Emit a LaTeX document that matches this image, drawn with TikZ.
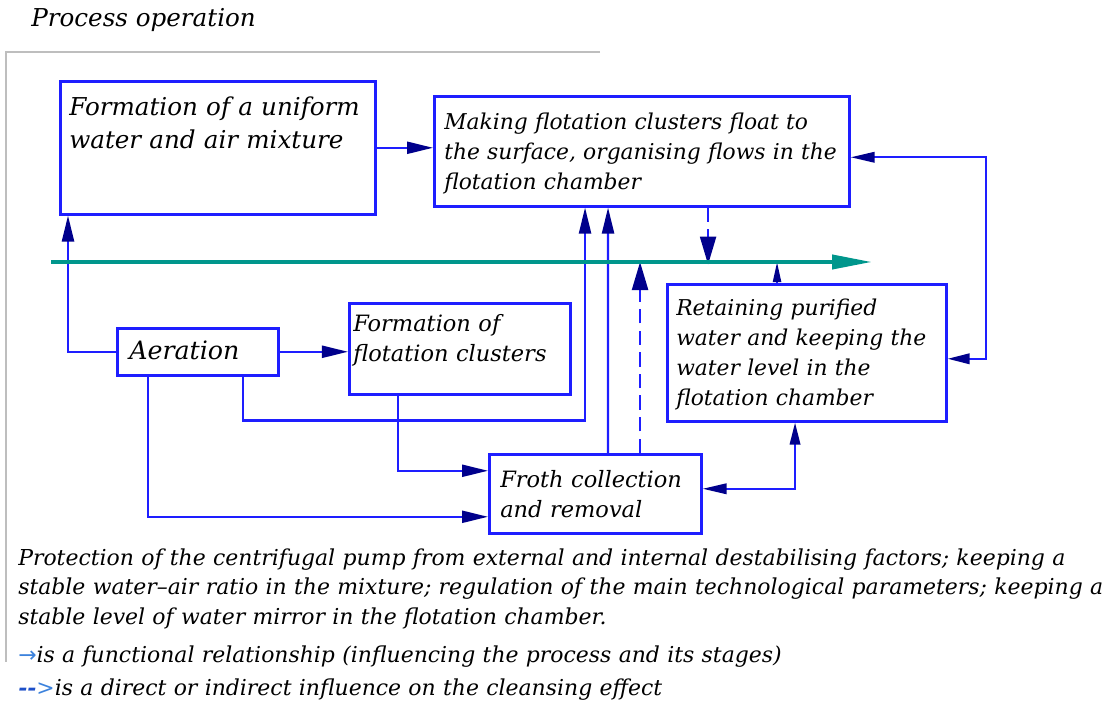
\documentclass[tikz,border=0pt]{standalone}
\usepackage{fontspec}
\setmainfont{DejaVu Serif}
\newfontfamily\symfont{DejaVu Sans}
\usetikzlibrary{arrows.meta}
\definecolor{boxblue}{RGB}{30,30,255}
\definecolor{tipnavy}{RGB}{0,0,140}
\definecolor{axisteal}{RGB}{0,150,140}
\definecolor{framegray}{RGB}{190,190,190}
\definecolor{legblue}{RGB}{60,130,220}
\definecolor{legnavy}{RGB}{30,80,200}

\begin{document}
\begin{tikzpicture}[x=0.025cm, y=-0.025cm]
	% Styles for the nodes
	\tikzstyle{stage} = [rectangle, draw=boxblue, line width=1.8pt, anchor=north west, align=left, inner ysep=0pt, font=\fontsize{16}{21.3}\selectfont\itshape]
	\tikzstyle{remark} = [anchor=base west, inner sep=0pt, align=left, text width=27.2cm, font=\fontsize{15.6}{21.3}\selectfont\itshape]
	\tikzstyle{link} = [draw=boxblue, line width=1.6pt, -{Triangle[length=0.65cm, width=0.3cm, color=tipnavy]}]
	\tikzstyle{twoway} = [draw=boxblue, line width=1.6pt, {Triangle[length=0.6cm, width=0.26cm, color=tipnavy]}-{Triangle[length=0.55cm, width=0.26cm, color=tipnavy]}]
	\tikzstyle{effect} = [draw=boxblue, line width=1.6pt, dash pattern=on 0.36cm off 0.18cm, -{Triangle[length=0.7cm, width=0.4cm, color=tipnavy]}]
	\tikzstyle{axis} = [draw=axisteal, line width=0.1cm, -{Triangle[length=1cm, width=0.35cm, color=axisteal]}]
	\useasboundingbox (0,0) rectangle (1108,707);
	% Frame and title
	\draw[framegray, line width=0.04cm] (600,52) -- (6,52) -- (6,662);
	\node (title) [anchor=base west, inner sep=0pt, font=\fontsize{17.5}{21}\selectfont\itshape] at (31,27) {Process operation};
	% Nodes
	\node (mix) [stage, font=\fontsize{17.5}{23.4}\selectfont\itshape, inner xsep=0.225cm, text width=7.425cm, text height=0.85cm, text depth=2.475cm] at (59,80) {Formation of a uniform\\ water and air mixture};
	\node (flt) [stage, font=\fontsize{15.5}{21.3}\selectfont\itshape, inner xsep=0.25cm, text width=9.875cm, text height=0.825cm, text depth=1.925cm] at (433,95) {Making flotation clusters float to\\ the surface, organising flows in the\\ flotation chamber};
	\node (ret) [stage, font=\fontsize{15.5}{21.3}\selectfont\itshape, inner xsep=0.225cm, text width=6.525cm, text height=0.775cm, text depth=2.65cm] at (666,283) {Retaining purified\\ water and keeping the\\ water level in the\\ flotation chamber};
	\node (aer) [stage, font=\fontsize{18}{21.3}\selectfont\itshape, inner xsep=0.3cm, text width=3.425cm, text height=0.775cm, text depth=0.4cm] at (116,327) {Aeration};
	\node (clu) [stage, inner xsep=0.1cm, text width=5.325cm, text height=0.7cm, text depth=1.575cm] at (348,302) {Formation of\\ flotation clusters};
	\node (fro) [stage, inner xsep=0.275cm, text width=4.75cm, text height=0.825cm, text depth=1.15cm] at (488,453) {Froth collection\\ and removal};
	% Arrows
	\draw[link] (aer.west) -| ([xshift=0.225cm]mix.south west);
	\draw[link] (mix.east) -- (mix.east -| flt.west);
	\draw[link] (aer.east) -- (aer.east -| clu.west);
	\draw[link] ([xshift=3.175cm]aer.south west) -- ++(0,44) -| ([xshift=3.8cm]flt.south west);
	\draw[link] ([xshift=1.25cm]clu.south west) |- ([yshift=0.575cm]fro.west);
	\draw[link] ([xshift=0.8cm]aer.south west) |- ([yshift=-0.575cm]fro.west);
	\draw[link] ([xshift=3cm]fro.north west) -- ([xshift=4.375cm]flt.south west);
	\draw[twoway] ([yshift=-0.15cm]flt.east) -- ++(135,0) |- ([yshift=-0.15cm]ret.east);
	\draw[twoway] ([yshift=0.125cm]fro.east) -| ([xshift=3.225cm]ret.south west);
	\draw[effect] ([xshift=3.8cm]fro.north west) -- ++(0,-191);
	\draw[effect] ([xshift=6.875cm]flt.south west) -- ++(0,57);
	\draw[link, -{Triangle[length=0.5cm, width=0.2cm, color=tipnavy]}] ([xshift=2.775cm]ret.north west) -- ++(0,-21);
	% Cleansing effect axis
	\coordinate (axs) at (51,262);
	\coordinate (axe) at (872,262);
	\draw[axis] (axs) -- (axe);
	% Notes and legend
	\node (note) [remark] at (18,565) {Protection of the centrifugal pump from external and internal destabilising factors; keeping a\\ stable water–air ratio in the mixture; regulation of the main technological parameters; keeping a\\ stable level of water mirror in the flotation chamber.};
	\node (leg1) [remark] at (18,662) {{\symfont\color{legblue}→}is a functional relationship (influencing the process and its stages)};
	\node (leg2) [remark] at (18,695) {{\color{legnavy}\bfseries -{}-}{\color{legblue}>}is a direct or indirect influence on the cleansing effect};
\end{tikzpicture}
\end{document}
